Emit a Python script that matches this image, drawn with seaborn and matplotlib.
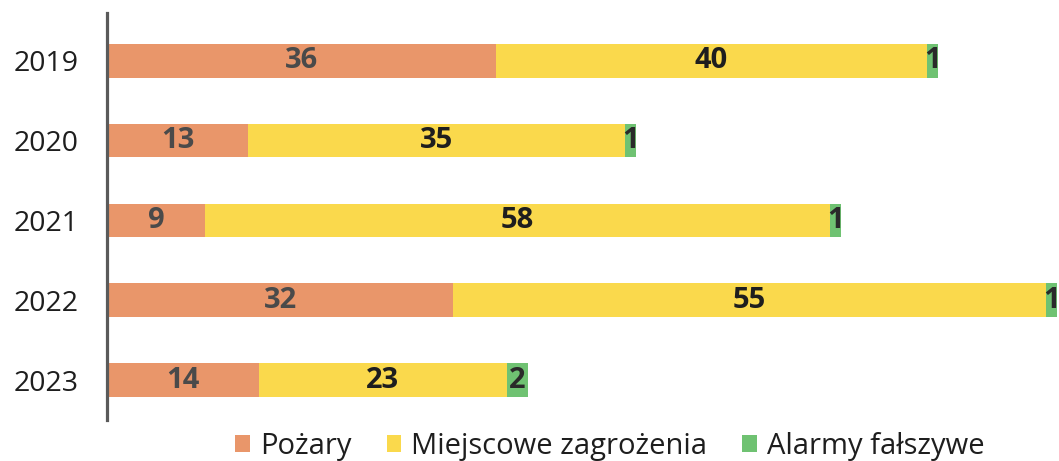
import matplotlib
matplotlib.use("Agg")
import matplotlib.pyplot as plt
import seaborn as sns
import pandas as pd
from matplotlib.patches import Patch

years = ["2019", "2020", "2021", "2022", "2023"]
pozary = [36, 13, 9, 32, 14]
miejscowe = [40, 35, 58, 55, 23]
alarmy = [1, 1, 1, 1, 2]

series_names = ["Pożary", "Miejscowe zagrożenia", "Alarmy fałszywe"]
colors = ["#E9966A", "#FAD94C", "#6FC272"]

sns.set_theme(style="white")
plt.rcParams["font.family"] = ["Open Sans", "DejaVu Sans"]

df = pd.DataFrame({"year": years, "p": pozary, "m": miejscowe, "a": alarmy})
df["pm"] = df["p"] + df["m"]
df["total"] = df["pm"] + df["a"]

fig = plt.figure(figsize=(10.59, 4.61), dpi=100)
ax = fig.add_axes([0.1015, 0.089, 0.8985, 0.883])

bw = 0.42
sns.barplot(data=df, x="total", y="year", order=years, color=colors[2],
            width=bw, saturation=1, linewidth=0, ax=ax)
sns.barplot(data=df, x="pm", y="year", order=years, color=colors[1],
            width=bw, saturation=1, linewidth=0, ax=ax)
sns.barplot(data=df, x="p", y="year", order=years, color=colors[0],
            width=bw, saturation=1, linewidth=0, ax=ax)

label_kw = dict(ha="center", va="center", fontsize=21, fontweight="bold")
for i, row in df.iterrows():
    ax.text(row["p"] / 2, i, str(row["p"]), color="#4a4a4a", **label_kw)
    ax.text(row["p"] + row["m"] / 2, i, str(row["m"]), color="#1e1e1e", **label_kw)
    ax.text(row["pm"] + row["a"] / 2, i, str(row["a"]), color="#2a2a2a", **label_kw)

ax.set_xlim(0, 88.2)
ax.set_ylim(4.5, -0.6)
ax.set_xlabel("")
ax.set_ylabel("")
ax.set_xticks([])
for s in ["top", "right", "bottom"]:
    ax.spines[s].set_visible(False)
ax.spines["left"].set_color("#5a5a5a")
ax.spines["left"].set_linewidth(2.3)
ax.tick_params(axis="y", length=0, pad=21, labelsize=20.5, labelcolor="#1e1e1e")

handles = [Patch(facecolor=c, edgecolor="none") for c in colors]
fig.legend(handles, series_names, loc="center", bbox_to_anchor=(0.576, 0.032),
           ncol=3, frameon=False, fontsize=21, handlelength=0.5, handleheight=0.5,
           handletextpad=0.35, columnspacing=1.2, labelcolor="#1e1e1e")

fig.savefig("out.png", dpi=100)
